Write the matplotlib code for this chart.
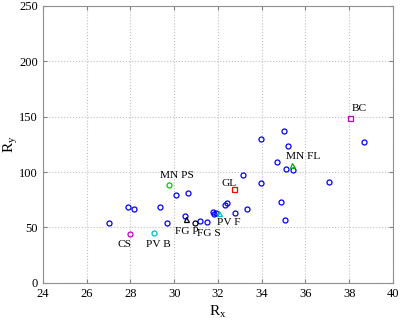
import matplotlib
matplotlib.use('Agg')
import matplotlib.pyplot as plt

plt.rcParams['font.family'] = ['Liberation Serif', 'DejaVu Serif']
plt.rcParams['mathtext.fontset'] = 'stix'

# unlabelled samples (blue circles)
rx_blue = [27.02, 27.9, 28.16, 29.35, 29.68, 30.07, 30.61, 30.5, 31.19, 31.48,
           31.77, 31.82, 31.92, 32.34, 32.43, 32.79, 33.31, 33.13, 33.97, 34.87,
           35.08, 37.06, 35.12, 35.44, 34.68, 35.03, 33.98, 35.21, 38.66]
ry_blue = [53.6, 68.6, 66.8, 68.6, 54.2, 78.9, 81.0, 60.2, 55.4, 54.5,
           64.1, 62.0, 62.6, 69.9, 71.7, 63.2, 66.2, 96.9, 90.3, 73.1,
           56.6, 90.6, 102.3, 101.7, 108.9, 137.5, 129.7, 123.1, 126.7]

# labelled samples
names = ['CS', 'PV B', 'MN PS', 'FG P', 'FG S', 'PV F', 'GL', 'MN FL', 'BC']
rx_named = [27.99, 29.07, 29.76, 30.55, 30.96, 32.05, 32.73, 35.37, 38.05]
ry_named = [43.7, 45.1, 87.9, 57.5, 53.6, 62.9, 84.6, 105.9, 148.6]
colors = ['m', 'c', '#00cc00', 'k', 'k', 'c', 'r', '#00aa00', 'm']
markers = ['o', 'o', 'o', '^', 'o', '^', 's', '^', 's']
# label offsets (data units) from each point
dx = [-0.56, -0.36, -0.41, -0.5, 0.1, -0.1, -0.55, -0.26, 0.08]
dy = [-8.8, -10.2, 9.3, -10.8, -9.6, -8.1, 5.4, 8.5, 9.1]

fig = plt.figure(figsize=(4.01, 3.24), dpi=100)
ax = fig.add_axes([0.107, 0.1275, 0.873, 0.854])

ax.plot(rx_blue, ry_blue, 'o', mfc='none', mec='b', ms=3.6, mew=0.9)
for i in range(len(names)):
    ax.plot(rx_named[i], ry_named[i], markers[i], mfc='none', mec=colors[i], ms=3.6, mew=0.9)
    ax.text(rx_named[i] + dx[i], ry_named[i] + dy[i], names[i],
            fontsize=8.2, ha='left', va='center')

ax.set_xlim(24, 40)
ax.set_ylim(0, 250)
ax.set_xticks(range(24, 41, 2))
ax.set_yticks(range(0, 251, 50))
ax.grid(True, linestyle=':', color='#c0c0c0', linewidth=0.8)
ax.tick_params(direction='in', top=True, right=True, labelsize=9, length=3, color='#808080')
for s in ax.spines.values():
    s.set_color('#909090')
ax.set_xlabel('R$_\\mathregular{x}$', fontsize=11, va='center')
ax.set_ylabel('R$_\\mathregular{y}$', fontsize=11, va='center')
ax.xaxis.set_label_coords(0.5, -0.105)
ax.yaxis.set_label_coords(-0.09, 0.5)

fig.savefig('out.png', dpi=100)
